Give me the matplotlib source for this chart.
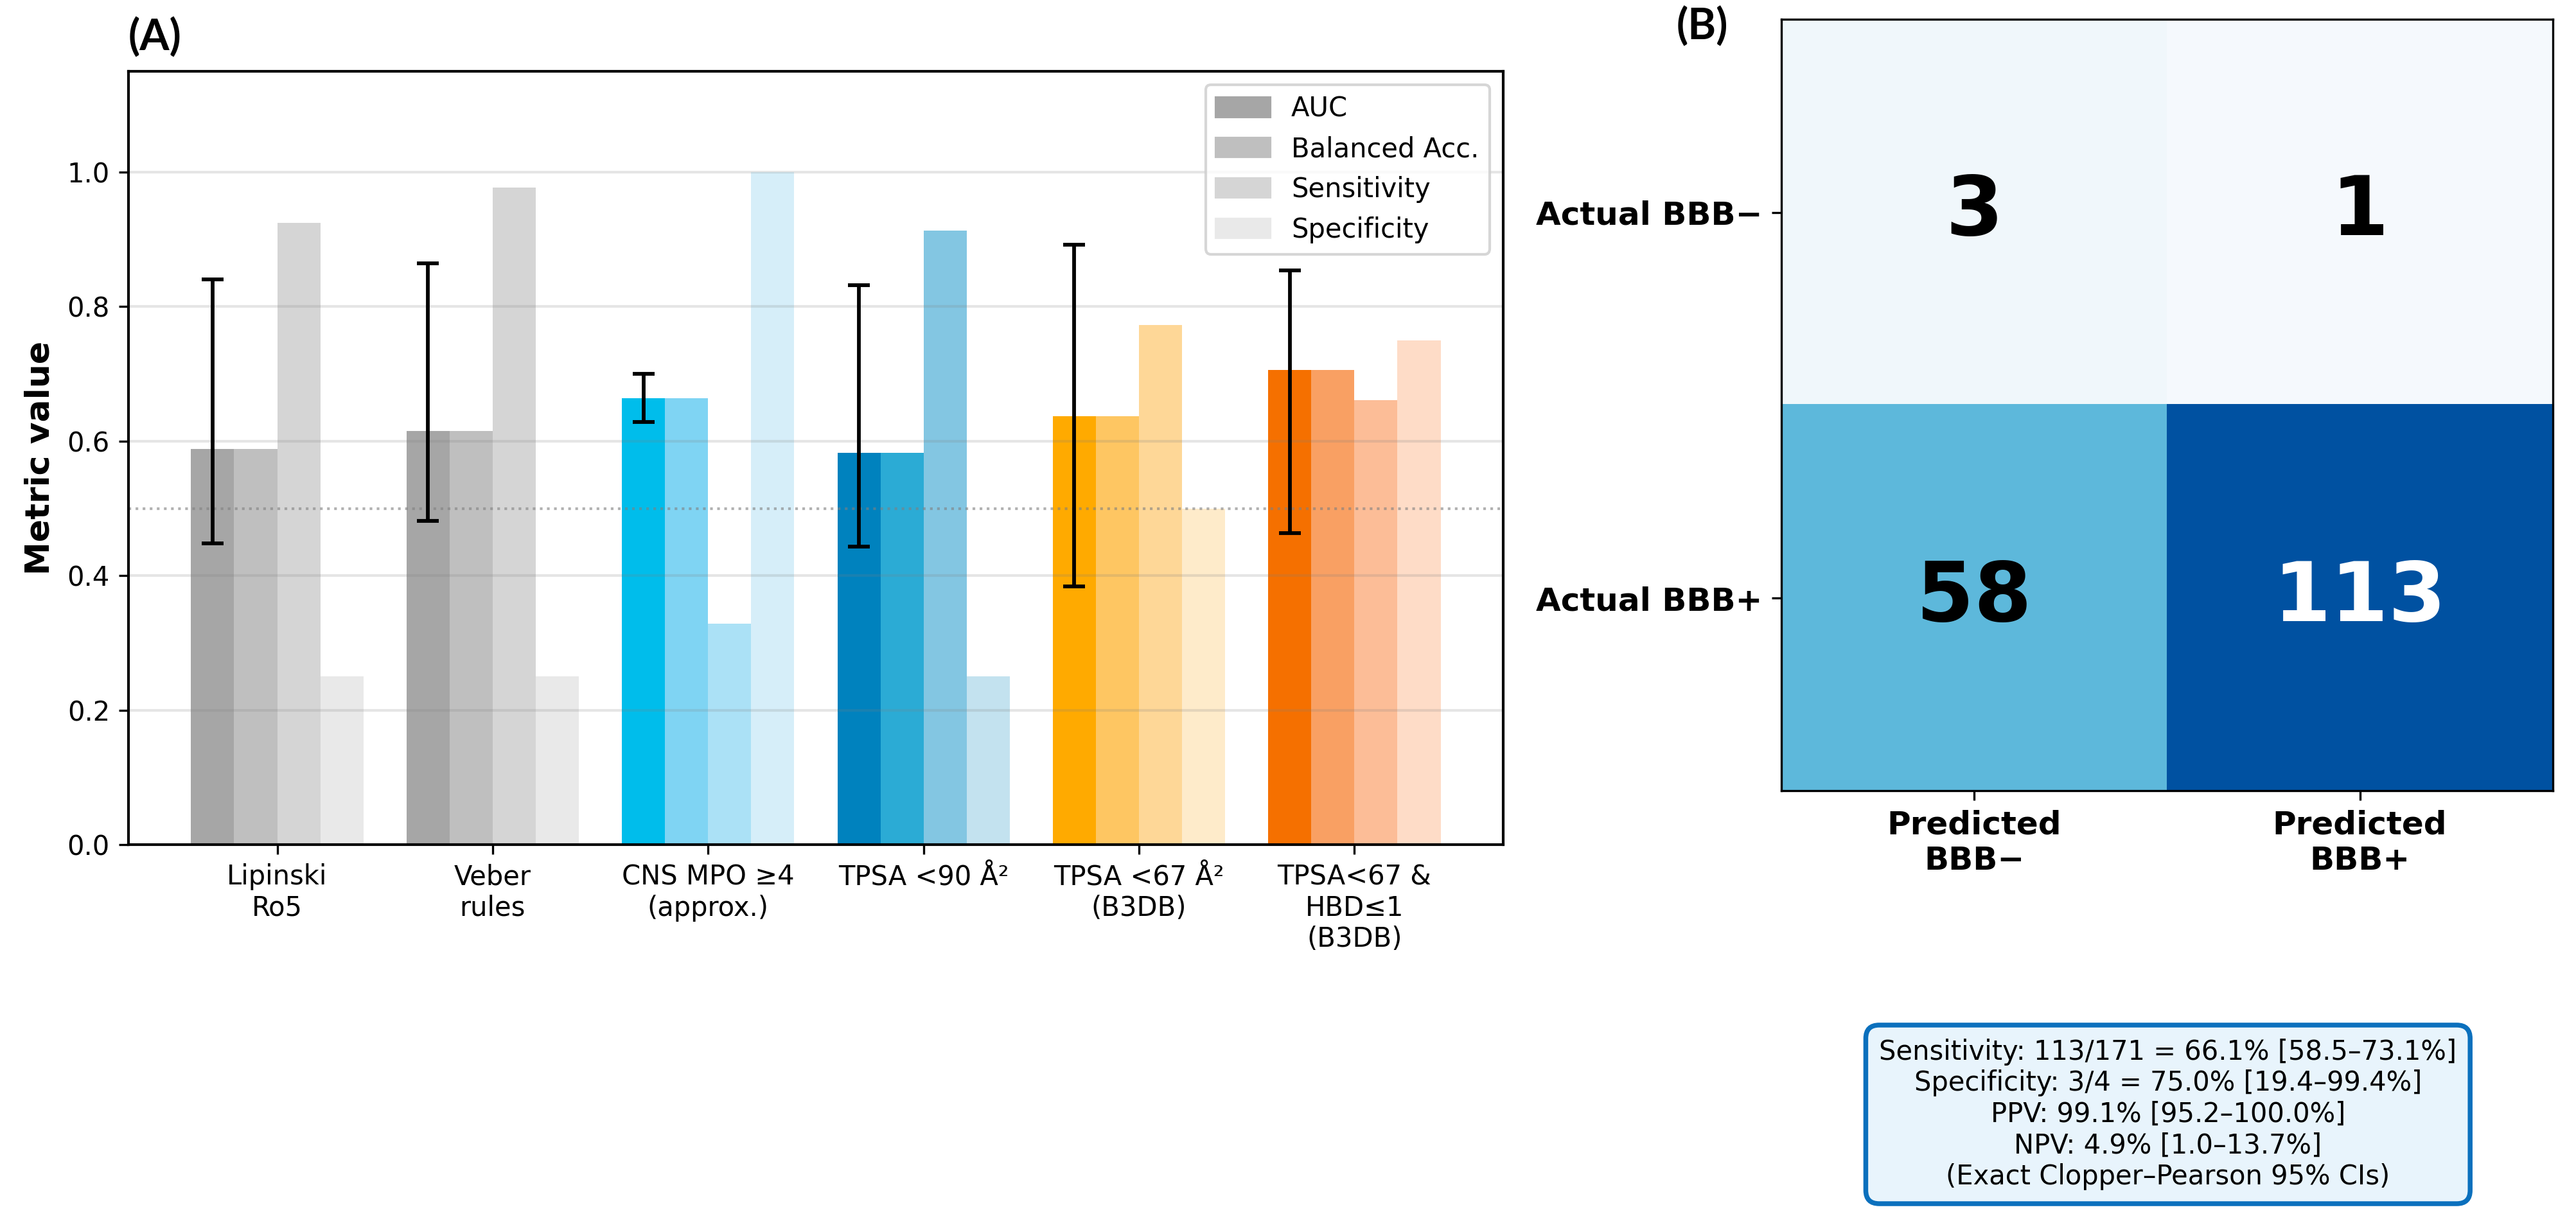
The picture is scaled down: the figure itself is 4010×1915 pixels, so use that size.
import numpy as np
import matplotlib
matplotlib.use("Agg")
import matplotlib.pyplot as plt
from matplotlib.patches import Patch
from matplotlib.colors import LinearSegmentedColormap

# rule-based filters (panel A)
rules = ["Lipinski\nRo5", "Veber\nrules", "CNS MPO \u22654\n(approx.)",
         "TPSA <90 \u00c5\u00b2", "TPSA <67 \u00c5\u00b2\n(B3DB)",
         "TPSA<67 &\nHBD\u22641\n(B3DB)"]
metrics = ["AUC", "Balanced Acc.", "Sensitivity", "Specificity"]

auc = [0.588, 0.615, 0.664, 0.583, 0.637, 0.706]
bal_acc = [0.588, 0.615, 0.664, 0.583, 0.637, 0.706]
sens = [0.925, 0.977, 0.329, 0.913, 0.773, 0.661]
spec = [0.25, 0.25, 1.0, 0.25, 0.5, 0.75]
auc_lo = [0.448, 0.481, 0.629, 0.443, 0.384, 0.463]
auc_hi = [0.841, 0.864, 0.700, 0.832, 0.892, 0.854]

# shades per rule: AUC, Bal, Sens, Spec
shades = [
    ["#a6a6a6", "#bfbfbf", "#d5d5d5", "#e9e9e9"],
    ["#a6a6a6", "#bfbfbf", "#d5d5d5", "#e9e9e9"],
    ["#00bdeb", "#7fd4f3", "#abe1f6", "#d6eef9"],
    ["#0082be", "#2babd5", "#83c6e2", "#c3e2ef"],
    ["#ffaa00", "#fec662", "#fed797", "#feebca"],
    ["#f57000", "#f9a063", "#fcbd97", "#fedcc7"],
]

# confusion matrix (panel B)
cm = np.array([[3, 1], [58, 113]])
row_labels = ["Actual BBB\u2212", "Actual BBB+"]
col_labels = ["Predicted\nBBB\u2212", "Predicted\nBBB+"]
summary = ("Sensitivity: 113/171 = 66.1% [58.5\u201373.1%]\n"
           "Specificity: 3/4 = 75.0% [19.4\u201399.4%]\n"
           "PPV: 99.1% [95.2\u2013100.0%]\n"
           "NPV: 4.9% [1.0\u201313.7%]\n"
           "(Exact Clopper\u2013Pearson 95% CIs)")

fig = plt.figure(figsize=(4010 / 300, 1915 / 300), dpi=300)

# ---- panel A: grouped bars
ax = fig.add_axes([0.0499, 0.3133, 0.5336, 0.6287])
x = np.arange(len(rules))
w = 0.2
series = [auc, bal_acc, sens, spec]
for j, vals in enumerate(series):
    cols = [shades[i][j] for i in range(len(rules))]
    ax.bar(x + (j - 1.5) * w, vals, w, color=cols, linewidth=0)

err = [np.array(auc) - np.array(auc_lo), np.array(auc_hi) - np.array(auc)]
ax.errorbar(x - 1.5 * w, auc, yerr=err, fmt="none", ecolor="black",
            elinewidth=1.4, capsize=4, capthick=1.4, zorder=3)

ax.axhline(0.5, color="gray", ls=":", lw=1, alpha=0.6)
ax.yaxis.grid(True, color="gray", alpha=0.2, lw=1.0)
ax.set_ylim(0, 1.15)
ax.set_yticks([0.0, 0.2, 0.4, 0.6, 0.8, 1.0])
ax.set_xticks(x)
ax.set_xticklabels(rules, fontsize=10)
ax.tick_params(labelsize=10)
ax.set_ylabel("Metric value", fontsize=12.5, fontweight="bold")
for s in ax.spines.values():
    s.set_linewidth(1.0)

handles = [Patch(color=shades[0][j]) for j in range(4)]
ax.legend(handles, metrics, loc="upper right", fontsize=10)

# ---- panel B: confusion matrix
cmap = LinearSegmentedColormap.from_list(
    "cm_blues", [(0.0, "#f5f9fd"), (57 / 112, "#5eb9dc"), (1.0, "#0051a1")])
bx = fig.add_axes([0.6915, 0.3567, 0.2995, 0.6276])
bx.imshow(cm, cmap=cmap, vmin=cm.min(), vmax=cm.max())
for r in range(2):
    for c in range(2):
        col = "white" if cm[r, c] > 80 else "black"
        bx.text(c, r, str(cm[r, c]), ha="center", va="center",
                fontsize=31, fontweight="bold", color=col)
bx.set_xticks([0, 1])
bx.set_xticklabels(col_labels, fontsize=12, fontweight="bold")
bx.set_yticks([0, 1])
bx.set_yticklabels(row_labels, fontsize=12, fontweight="bold")

# panel letters
fig.text(0.0499, 0.959, "(A)", fontsize=16, fontweight="bold",
         family=["Lato", "DejaVu Sans"])
fig.text(0.6509, 0.968, "(B)", fontsize=16, fontweight="bold",
         family=["Lato", "DejaVu Sans"])

fig.text(0.8416, 0.094, summary, ha="center", va="center", fontsize=10,
         linespacing=1.2,
         bbox=dict(boxstyle="round,pad=0.5", facecolor="#e8f4fc",
                   edgecolor="#0b70bd", linewidth=1.8))

fig.savefig("out.png", dpi=300)
